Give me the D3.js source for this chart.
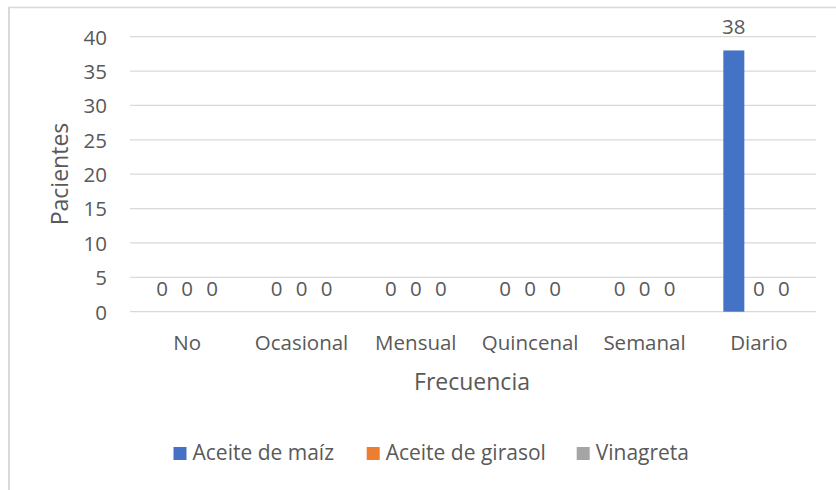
<!DOCTYPE html>
<html>
<head>
<meta charset="utf-8">
<script src="https://cdn.jsdelivr.net/npm/d3@7"></script>
<style>
  html, body { margin: 0; padding: 0; background: #fff; }
  svg { display: block; font-family: "Open Sans", sans-serif; }
</style>
</head>
<body>
<svg id="chart" width="836" height="490"></svg>
<script>
const categories = ["No", "Ocasional", "Mensual", "Quincenal", "Semanal", "Diario"];
const seriesNames = ["Aceite de maíz", "Aceite de girasol", "Vinagreta"];
const maiz    = [0, 0, 0, 0, 0, 38];
const girasol = [0, 0, 0, 0, 0, 0];
const vinagreta = [0, 0, 0, 0, 0, 0];
const yTicks = [0, 5, 10, 15, 20, 25, 30, 35, 40];
const colors = ["#4472C4", "#ED7D31", "#A5A5A5"];
const xTitle = "Frecuencia";
const yTitle = "Pacientes";

const seriesValues = [maiz, girasol, vinagreta];
const textColor = "#595959";

const svg = d3.select("#chart");

// chart border (only top and left visible)
svg.append("line").attr("x1", 8).attr("x2", 836).attr("y1", 7.5).attr("y2", 7.5)
  .attr("stroke", "#d9d9d9").attr("stroke-width", 1.5);
svg.append("line").attr("x1", 9).attr("x2", 9).attr("y1", 7).attr("y2", 490)
  .attr("stroke", "#d9d9d9").attr("stroke-width", 2);

const plot = { left: 130, right: 816, top: 36.7, bottom: 311.7 };

const x0 = d3.scaleBand().domain(categories).range([plot.left, plot.right]).paddingInner(0).paddingOuter(0);
const groupW = 75;
const x1 = d3.scaleBand().domain(seriesNames)
  .range([(x0.bandwidth() - groupW) / 2, (x0.bandwidth() + groupW) / 2])
  .paddingInner(0.16).paddingOuter(0.08);
const y = d3.scaleLinear().domain([0, 40]).range([plot.bottom, plot.top]);

// gridlines
svg.append("g").selectAll("line").data(yTicks).join("line")
  .attr("x1", plot.left).attr("x2", plot.right)
  .attr("y1", d => y(d)).attr("y2", d => y(d))
  .attr("stroke", "#d9d9d9").attr("stroke-width", 1.3);

// y axis labels
const yAxis = d3.axisLeft(y).tickValues(yTicks).tickSize(0).tickPadding(0);
const gy = svg.append("g").attr("transform", `translate(107,0)`).call(yAxis);
gy.select(".domain").remove();
gy.selectAll("text").attr("fill", textColor).style("font-size", "20.5px")
  .style("font-family", '"Open Sans", sans-serif').attr("dy", "0.36em").attr("x", 0);

// x axis labels
const xAxis = d3.axisBottom(x0).tickSize(0).tickPadding(0);
const gx = svg.append("g").attr("transform", `translate(0,350)`).call(xAxis);
gx.select(".domain").remove();
gx.selectAll("text").attr("fill", textColor).style("font-size", "20.5px")
  .style("font-family", '"Open Sans", sans-serif').attr("dy", "0").attr("y", 0);

// bars
const data = [];
categories.forEach((c, i) => {
  seriesNames.forEach((s, j) => {
    data.push({ cat: c, series: s, value: seriesValues[j][i], color: colors[j] });
  });
});

svg.append("g").selectAll("rect").data(data).join("rect")
  .attr("x", d => x0(d.cat) + x1(d.series))
  .attr("width", x1.bandwidth())
  .attr("y", d => y(d.value))
  .attr("height", d => y(0) - y(d.value))
  .attr("fill", d => d.color);

// data labels
svg.append("g").selectAll("text").data(data).join("text")
  .attr("x", d => x0(d.cat) + x1(d.series) + x1.bandwidth() / 2)
  .attr("y", d => y(d.value) - 16)
  .attr("text-anchor", "middle")
  .attr("fill", textColor)
  .style("font-size", "20.5px")
  .text(d => d.value);

// axis titles
svg.append("text").attr("x", 472).attr("y", 390).attr("text-anchor", "middle")
  .attr("fill", textColor).style("font-size", "23px").text(xTitle);
svg.append("text").attr("transform", `translate(68,174) rotate(-90)`).attr("text-anchor", "middle")
  .attr("fill", textColor).style("font-size", "23px").text(yTitle);

// legend
const legendItems = [
  { name: seriesNames[0], color: colors[0], x: 173.5 },
  { name: seriesNames[1], color: colors[1], x: 366.7 },
  { name: seriesNames[2], color: colors[2], x: 576.7 }
];
const lg = svg.append("g");
legendItems.forEach(it => {
  lg.append("rect").attr("x", it.x).attr("y", 447).attr("width", 13).attr("height", 13).attr("fill", it.color);
  lg.append("text").attr("x", it.x + 19).attr("y", 460).attr("fill", textColor)
    .style("font-size", "21px").text(it.name);
});
</script>
</body>
</html>
